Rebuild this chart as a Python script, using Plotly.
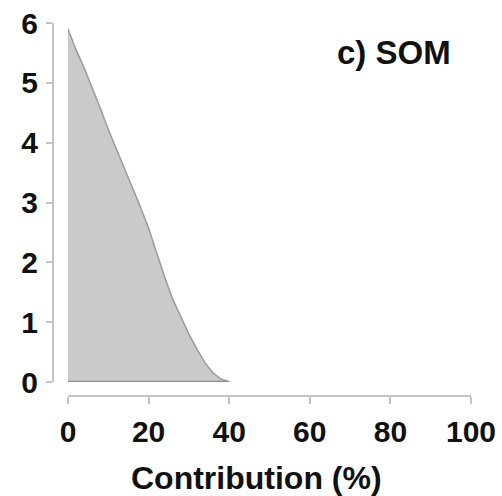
import plotly.graph_objects as go

# Data
contribution = [0, 2, 4, 6, 8, 10, 12, 14, 16, 18, 20, 22, 24, 26, 28, 30, 32, 34, 36, 38, 40]
density = [5.9, 5.55, 5.25, 4.92, 4.58, 4.22, 3.9, 3.57, 3.25, 2.92, 2.57, 2.15, 1.75, 1.38, 1.08, 0.8, 0.55, 0.32, 0.15, 0.05, 0.0]
x_ticks = [0, 20, 40, 60, 80, 100]
y_ticks = [0, 1, 2, 3, 4, 5, 6]
panel_label = "c) SOM"
x_title = "Contribution (%)"

W, H = 502, 496
FONT = "Liberation Sans, Arial, sans-serif"
tick_font = dict(family=FONT, size=30, color="#111", weight="bold")


def px_x(v):
    return v / W


def px_y(v):
    return 1 - v / H


fig = go.Figure()
fig.add_trace(go.Scatter(
    x=contribution, y=density, mode="lines", fill="tozeroy",
    fillcolor="#cacaca", line=dict(color="#9a9a9a", width=1.5),
    hoverinfo="skip", showlegend=False,
))
fig.add_trace(go.Scatter(
    x=[contribution[0], contribution[-1]], y=[0, 0], mode="lines",
    line=dict(color="#8e8e8e", width=2.5), hoverinfo="skip", showlegend=False,
))

axis_style = dict(showgrid=False, zeroline=False, showline=True,
                  linecolor="#c4c4c4", linewidth=2, ticks="outside",
                  tickcolor="#c4c4c4", tickwidth=2, tickfont=tick_font,
                  automargin=False, ticklabeloverflow="allow")

fig.update_layout(
    width=W, height=H, margin=dict(l=0, r=0, t=0, b=0, autoexpand=False),
    plot_bgcolor="white", paper_bgcolor="white",
    xaxis=dict(domain=[px_x(68), px_x(471)], range=[0, 100],
               tickvals=x_ticks, anchor="free", position=px_y(396),
               ticklen=7, ticklabelstandoff=2, **axis_style),
    yaxis=dict(domain=[px_y(382), px_y(23)], range=[0, 6],
               tickvals=y_ticks, anchor="free", position=px_x(53),
               ticklen=6, ticklabelstandoff=2, **axis_style),
    font=dict(family=FONT),
    annotations=[
        dict(text=panel_label, xref="paper", yref="paper",
             x=px_x(394), y=px_y(53), xanchor="center", yanchor="middle",
             showarrow=False,
             font=dict(family=FONT, size=33, color="#111", weight="bold")),
        dict(text=x_title, xref="paper", yref="paper",
             x=px_x(256), y=px_y(478), xanchor="center", yanchor="middle",
             showarrow=False,
             font=dict(family=FONT, size=32, color="#111", weight="bold")),
    ],
)

fig.write_html("out.html",
               config={"displayModeBar": False},
               post_script="document.body.style.margin='0';"
                           "document.body.style.overflow='hidden';")
